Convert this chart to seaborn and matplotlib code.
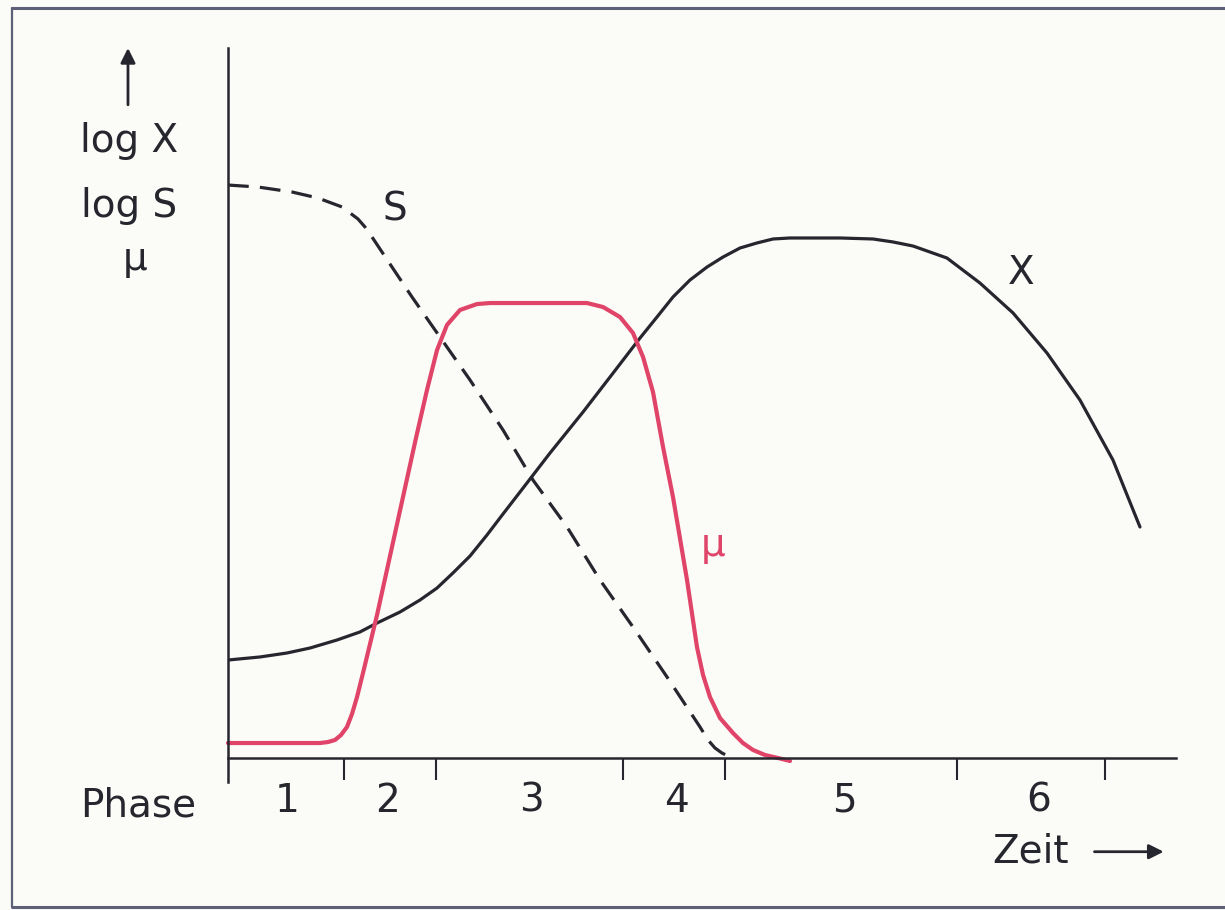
import numpy as np
import pandas as pd
import matplotlib
matplotlib.use("Agg")
import matplotlib.pyplot as plt
import seaborn as sns
from matplotlib.lines import Line2D

# ---- data (time in arbitrary units 0..10, value in arbitrary units 0..10) ----
# biomass X (log scale)
x_time = [0.000, 0.338, 0.622, 0.865, 1.150, 1.392, 1.572, 1.814, 2.025, 2.205, 2.373,
          2.553, 2.732, 2.901, 3.080, 3.397, 3.745, 4.030, 4.346, 4.525, 4.694, 4.873,
          5.053, 5.222, 5.401, 5.580, 5.749, 5.928, 6.456, 6.804, 7.015, 7.226, 7.584,
          7.932, 8.281, 8.639, 8.987, 9.335, 9.620]
x_val = [1.380, 1.423, 1.479, 1.549, 1.662, 1.775, 1.901, 2.056, 2.225, 2.394, 2.606,
         2.845, 3.141, 3.437, 3.746, 4.296, 4.873, 5.366, 5.915, 6.211, 6.493, 6.732,
         6.915, 7.056, 7.183, 7.254, 7.310, 7.324, 7.324, 7.310, 7.268, 7.211, 7.042,
         6.690, 6.268, 5.704, 5.042, 4.197, 3.254]

# substrate S (log scale)
s_time = [0.000, 0.316, 0.675, 0.949, 1.203, 1.371, 1.445, 1.519, 1.730, 1.941, 2.184,
          2.553, 2.901, 3.217, 3.576, 3.924, 4.272, 4.631, 4.979, 5.063, 5.137, 5.211,
          5.295]
s_val = [8.070, 8.042, 7.972, 7.887, 7.761, 7.592, 7.479, 7.338, 6.915, 6.493, 6.028,
         5.324, 4.620, 3.915, 3.254, 2.507, 1.845, 1.141, 0.437, 0.254, 0.141, 0.070,
         0.014]

# specific growth rate mu
mu_time = [0.000, 0.970, 1.055, 1.129, 1.192, 1.255, 1.308, 1.361, 1.424, 1.572, 1.709,
           1.846, 1.983, 2.099, 2.205, 2.310, 2.447, 2.627, 2.764, 3.787, 3.956, 4.135,
           4.272, 4.378, 4.483, 4.589, 4.694, 4.842, 4.947, 5.011, 5.084, 5.190, 5.327,
           5.432, 5.538, 5.665, 5.802, 5.928]
mu_val = [0.211, 0.211, 0.225, 0.254, 0.324, 0.437, 0.620, 0.859, 1.197, 2.014, 2.845,
          3.676, 4.507, 5.183, 5.746, 6.099, 6.310, 6.394, 6.408, 6.408, 6.352, 6.211,
          5.986, 5.648, 5.155, 4.380, 3.676, 2.507, 1.563, 1.169, 0.859, 0.563, 0.352,
          0.211, 0.113, 0.042, 0.000, -0.042]

phase_bounds = [1.22, 2.19, 4.17, 5.24, 7.69, 9.25]
phase_centers = [0.62, 1.68, 3.20, 4.73, 6.50, 8.55]
phase_labels = ["1", "2", "3", "4", "5", "6"]

BG = "#fbfbf8"
INK = "#26262e"
RED = "#e04468"
FS = 28

sns.set_theme(style="white")
plt.rcParams["font.family"] = ["DejaVu Sans"]

fig = plt.figure(figsize=(12.25, 9.1), dpi=100, facecolor=BG)
ax = fig.add_axes([228 / 1225, 128 / 910, 948 / 1225, 734 / 910])
ax.set_facecolor(BG)

df_x = pd.DataFrame({"t": x_time, "v": x_val})
df_s = pd.DataFrame({"t": s_time, "v": s_val})
df_mu = pd.DataFrame({"t": mu_time, "v": mu_val})

sns.lineplot(data=df_x, x="t", y="v", ax=ax, color=INK, lw=2.3, estimator=None, sort=False,
             solid_joinstyle="round")
sns.lineplot(data=df_s, x="t", y="v", ax=ax, color=INK, lw=2.3, estimator=None, sort=False,
             linestyle=(0, (6.5, 3.5)))
sns.lineplot(data=df_mu, x="t", y="v", ax=ax, color=RED, lw=3.0, estimator=None, sort=False,
             clip_on=False, solid_joinstyle="round")

ax.set_xlim(0, 10)
ax.set_ylim(-0.338, 10.0)
ax.set_xlabel("")
ax.set_ylabel("")
ax.set_yticks([])

for side in ["top", "right"]:
    ax.spines[side].set_visible(False)
ax.spines["bottom"].set_position(("data", 0))
for side in ["bottom", "left"]:
    ax.spines[side].set_color(INK)
    ax.spines[side].set_linewidth(1.8)

ax.set_xticks(phase_bounds)
ax.set_xticklabels([""] * len(phase_bounds))
ax.tick_params(axis="x", which="major", direction="out", length=16, width=1.5,
               color=INK, bottom=True)
ax.set_xticks(phase_centers, minor=True)
ax.set_xticklabels(phase_labels, minor=True)
ax.tick_params(axis="x", which="minor", length=0, pad=17, labelsize=FS,
               labelcolor=INK, bottom=True)

# texts
ax.text(-0.95, -0.83, "Phase", ha="center", va="baseline", fontsize=FS, color=INK, clip_on=False)
ax.text(-1.045, 8.54, "log X", ha="center", va="baseline", fontsize=FS, color=INK, clip_on=False)
ax.text(-1.045, 7.62, "log S", ha="center", va="baseline", fontsize=FS, color=INK, clip_on=False)
ax.text(-0.98, 6.87, "μ", ha="center", va="baseline", fontsize=FS, color=INK, clip_on=False)
ax.annotate("", xy=(-1.055, 10.0), xytext=(-1.055, 9.2), annotation_clip=False,
            arrowprops=dict(arrowstyle="-|>", lw=2, color=INK, mutation_scale=22,
                            shrinkA=0, shrinkB=0))

ax.text(1.76, 7.73, "S", ha="center", va="center", fontsize=FS, color=INK)
ax.text(8.37, 6.83, "X", ha="center", va="center", fontsize=FS, color=INK)
ax.text(5.12, 3.0, "μ", ha="center", va="center", fontsize=FS, color=RED)

ax.text(8.06, -1.32, "Zeit", ha="left", va="center", fontsize=FS, color=INK, clip_on=False)
ax.annotate("", xy=(9.87, -1.32), xytext=(9.14, -1.32), annotation_clip=False,
            arrowprops=dict(arrowstyle="-|>", lw=2, color=INK, mutation_scale=22,
                            shrinkA=0, shrinkB=0))

# frame of the scanned figure
FR = "#5e6078"
fig.add_artist(Line2D([12 / 1225, 1.0], [1 - 8 / 910, 1 - 8 / 910], transform=fig.transFigure,
                      color=FR, lw=2.2))
fig.add_artist(Line2D([12 / 1225, 12 / 1225], [1 - 8 / 910, 1 - 907 / 910],
                      transform=fig.transFigure, color=FR, lw=1.6))
fig.add_artist(Line2D([12 / 1225, 1.0], [1 - 907 / 910, 1 - 907 / 910],
                      transform=fig.transFigure, color=FR, lw=2.2))

fig.savefig("out.png", dpi=100, facecolor=BG)
